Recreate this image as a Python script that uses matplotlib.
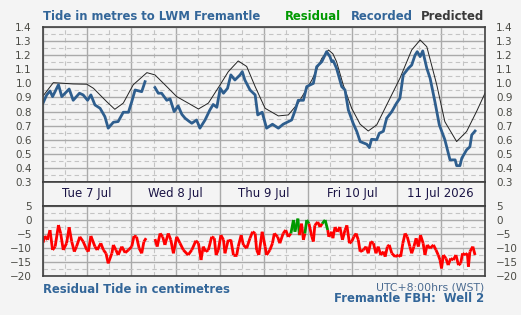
import numpy as np
import matplotlib
matplotlib.use("Agg")
import matplotlib.pyplot as plt
from matplotlib.ticker import MultipleLocator, FormatStrFormatter
from matplotlib.collections import LineCollection

# hours since Tue 7 Jul 2026 00:00 (WST)
pred_hours = [0, 2.8, 8.2, 11.9, 13.7, 17.3, 19.5, 21.8, 24.5, 28.2, 30.4, 33.6, 36.3,
              39.4, 42.2, 44.9, 48.1, 50.3, 53.0, 55.3, 57.6, 60.3, 63.9, 66.6, 69.3,
              73.0, 75.7, 77.5, 78.7, 79.7, 81.5, 83.8, 86.1, 88.3, 90.6, 94.2, 96.9,
              100.1, 102.4, 104.2, 106.9, 109.1, 112.3, 115.0, 117.7, 120]
pred_m = [0.91, 1.005, 0.996, 0.994, 0.965, 0.87, 0.816, 0.86, 0.99, 1.076, 1.06, 0.977, 0.906,
          0.86, 0.818, 0.86, 0.99, 1.083, 1.159, 1.12, 0.977, 0.823, 0.769, 0.776, 0.86,
          1.024, 1.178, 1.237, 1.21, 1.154, 0.99, 0.823, 0.71, 0.662, 0.705, 0.894, 1.036,
          1.237, 1.308, 1.26, 0.99, 0.728, 0.587, 0.658, 0.80, 0.93]

# recorded tide, two pieces (data gap on Wed morning)
rec_hours_a = [0, 1.0, 1.9, 2.6, 4.2, 5.1, 6.0, 7.1, 8.2, 9.9, 10.9, 12.1, 13.0, 14.1, 15.5,
               16.8, 17.7, 19.1, 20.4, 21.8, 23.2, 24.1, 25.0, 26.8, 27.7]
rec_m_a = [0.86, 0.918, 0.946, 0.906, 0.99, 0.906, 0.93, 0.96, 0.88, 0.93, 0.918, 0.88, 0.918,
           0.847, 0.823, 0.764, 0.682, 0.724, 0.729, 0.795, 0.795, 0.87, 0.953, 0.941, 1.012]
rec_hours_b = [30.4, 31.3, 32.2, 33.6, 34.5, 35.6, 36.7, 37.7, 38.6, 39.7, 40.4, 41.7, 42.6,
               44.0, 45.3, 46.2, 47.2, 48.1, 49.0, 50.1, 51.0, 52.1, 53.5, 54.1, 54.8, 56.2,
               57.6, 58.3, 59.5, 60.7, 62.3, 63.9, 65.2, 67.5, 68.4, 69.3, 70.7, 71.6, 73.4,
               74.3, 75.7, 77.0, 77.9, 78.4, 78.8, 79.7, 81.1, 82.0, 82.9, 84.2, 85.2, 86.1,
               87.9, 88.6, 89.2, 90.6, 91.3, 92.4, 93.3, 94.7, 96.0, 96.9, 97.8, 99.2, 100.1,
               101.0, 101.6, 102.4, 103.1, 104.2, 105.1, 106.4, 107.6, 109.1, 110.5, 111.9,
               112.3, 113.2, 113.7, 115.0, 115.9, 116.4, 117.3]
rec_m_b = [0.97, 0.93, 0.93, 0.88, 0.89, 0.80, 0.84, 0.78, 0.752, 0.73, 0.717, 0.74, 0.682,
           0.74, 0.811, 0.85, 0.83, 0.965, 0.93, 0.965, 1.06, 1.024, 1.06, 1.083, 1.024, 0.953,
           0.918, 0.776, 0.795, 0.682, 0.71, 0.682, 0.71, 0.74, 0.804, 0.88, 0.88, 0.977, 1.0,
           1.118, 1.154, 1.225, 1.19, 1.154, 1.16, 1.107, 0.977, 0.953, 0.811, 0.717, 0.658, 0.587,
           0.568, 0.544, 0.603, 0.60, 0.646, 0.66, 0.752, 0.80, 0.86, 0.894, 1.06, 1.107, 1.13,
           1.20, 1.225, 1.19, 1.23, 1.107, 1.036, 0.87, 0.705, 0.60, 0.457, 0.457,
           0.416, 0.416, 0.469, 0.528, 0.55, 0.634, 0.662]

# residual in cm
res_hours_a = [0, 0.5, 1.2, 1.9, 2.6, 3.3, 4.2, 4.8, 5.5, 6.4, 7.1, 7.8, 8.5, 9.1, 10.0, 10.9,
               11.9, 12.3, 13.0, 14.1, 14.7, 15.7, 16.4, 17.1, 17.7, 18.7, 19.1, 19.8, 20.4,
               21.4, 22.3, 23.2, 24.1, 24.7, 25.4, 26.1, 26.8, 27.4, 28.0]
res_cm_a = [-8.1, -5.7, -7.1, -3.6, -10.7, -9.5, -1.8, -4.8, -10.7, -8.3, -2.6, -7.7, -11.3,
            -9.5, -6.0, -7.7, -10.7, -11.3, -5.7, -9.5, -10.7, -8.3, -10.7, -11.9, -15.5, -11.9,
            -8.9, -10.7, -12.5, -9.5, -11.7, -10.7, -9.5, -5.7, -6.0, -10.1, -11.9, -7.7, -6.5]
res_hours_b = [30.4, 31.0, 31.8, 32.5, 33.1, 34.0, 34.7, 35.4, 36.3, 37.2, 38.1, 39.4, 40.4,
               41.5, 42.2, 42.9, 43.5, 44.2, 44.9, 45.8, 46.5, 47.0, 47.6, 48.3, 49.0, 49.4,
               50.3, 51.0, 51.7, 52.6, 53.0, 53.8, 54.4, 55.3, 56.2, 56.9, 57.6, 58.0, 58.6,
               59.5, 60.3, 60.7, 61.6, 62.3, 62.8, 63.7, 64.3, 65.2, 65.9, 66.6, 67.3, 68.0,
               68.4, 69.2, 69.6, 70.2, 70.7, 71.1, 71.6, 72.2, 73.0, 73.4, 73.8, 74.6, 75.2,
               75.8, 76.6, 77.3, 77.6, 78.4, 78.7, 79.3, 79.9, 80.6, 81.3, 82.0, 82.5, 83.2,
               83.8, 84.4, 85.0, 85.6, 86.1, 87.0, 87.7, 88.3, 89.0, 89.7, 90.4, 91.0, 91.7,
               92.4, 92.9, 93.5, 94.0, 94.7, 95.6, 96.5, 97.1, 97.7, 98.3, 98.9, 99.6, 100.1,
               100.7, 101.3, 101.9, 102.5, 103.2, 103.7, 104.3, 105.1, 106.0, 106.7, 107.3,
               107.8, 108.2, 108.7, 109.4, 110.0, 110.7, 111.4, 112.1, 112.8, 113.4, 113.9,
               114.6, 115.2, 115.5, 115.9, 116.7, 117.3]
res_cm_b = [-6.8, -9.5, -4.8, -6.0, -8.9, -4.8, -7.1, -11.9, -6.0, -8.3, -10.7, -12.5, -10.7,
            -7.4, -8.3, -14.3, -9.5, -11.3, -10.7, -6.0, -6.5, -12.5, -10.7, -5.4, -7.1, -11.9,
            -7.1, -7.1, -12.5, -12.5, -9.5, -5.4, -8.9, -10.1, -6.5, -4.2, -4.8, -10.7, -12.5,
            -4.2, -9.5, -12.5, -10.7, -8.3, -4.8, -6.0, -8.3, -4.8, -3.6, -6.0, -4.8, 0.0,
            -4.2, 0.5, -5.4, -1.3, -7.1, -4.8, 0.0, -1.3, -6.0, -7.7, -1.9, -0.7, -2.5,
            -1.3, 0.0, -3.6, -6.0, -4.2, -6.5, -2.5, -4.2, -2.5, -7.1, -3.6, -1.9, -8.3,
            -7.7, -6.0, -4.8, -7.1, -11.3, -10.7, -9.5, -11.9, -7.7, -8.3, -11.9, -9.5, -12.5,
            -11.3, -13.1, -9.5, -8.9, -11.9, -13.1, -12.5, -13.1, -8.3, -4.8, -6.0, -9.5, -11.9,
            -9.5, -6.5, -9.5, -5.4, -8.3, -12.5, -8.9, -10.1, -8.9, -10.7, -12.5,
            -14.3, -17.3, -12.5, -13.7, -16.1, -13.7, -14.3, -12.5, -16.1, -15.5, -11.9,
            -12.5, -11.9, -16.7, -11.3, -9.5, -12.5]

day_labels = ["Tue 7 Jul", "Wed 8 Jul", "Thu 9 Jul", "Fri 10 Jul", "11 Jul 2026"]

bg = "#f4f4f4"
blue = "#2e5e8e"
title_blue = "#336699"
tick_col = "#4a4a44"
frame_col = "#404040"
head_size = 8.4

fig = plt.figure(figsize=(5.21, 3.15), dpi=100, facecolor=bg)
W, H = 521.0, 315.0
x0, x1 = 43 / W, 485 / W
ax_top = fig.add_axes([x0, 1 - 182 / H, x1 - x0, 155 / H])
ax_mid = fig.add_axes([x0, 1 - 206 / H, x1 - x0, 24 / H])
ax_bot = fig.add_axes([x0, 1 - 276 / H, x1 - x0, 70 / H])

for ax in (ax_top, ax_mid, ax_bot):
    ax.set_facecolor(bg)
    ax.set_xlim(0, 120)
    for s in ax.spines.values():
        s.set_color(frame_col)
        s.set_linewidth(1.2)
    ax.tick_params(length=0, labelsize=7.5, labelcolor=tick_col,
                   labelleft=True, labelright=True, labelbottom=False)

for ax in (ax_top, ax_bot):
    ax.xaxis.set_major_locator(MultipleLocator(12))
    ax.xaxis.set_minor_locator(MultipleLocator(6))
    ax.grid(which="major", color="#aaaaaa", linewidth=1.0, linestyle="-")
    ax.grid(which="minor", color="#c4c4c4", linewidth=0.8, linestyle=(0, (4, 3)))
    ax.set_axisbelow(True)
    ax.tick_params(which="both", length=0, pad=8)

# top panel: tide in metres
ax_top.set_ylim(0.3, 1.4)
ax_top.yaxis.set_major_locator(MultipleLocator(0.1))
ax_top.yaxis.set_minor_locator(MultipleLocator(0.05))
ax_top.yaxis.set_major_formatter(FormatStrFormatter("%.1f"))
ax_top.plot(pred_hours, pred_m, color="#222222", linewidth=0.7)
ax_top.plot(rec_hours_a, rec_m_a, color=blue, linewidth=2.0)
ax_top.plot(rec_hours_b, rec_m_b, color=blue, linewidth=2.0)

# date band
ax_mid.set_ylim(0, 1)
ax_mid.set_yticks([])
ax_mid.set_xticks([24, 48, 72, 96])
ax_mid.tick_params(labelleft=False, labelright=False)
ax_mid.grid(axis="x", color="#aaaaaa", linewidth=1.0)
for i, lab in enumerate(day_labels):
    ax_mid.text(12 + 24 * i, 0.5, lab, ha="center", va="center",
                fontsize=8.5, color="#1a1445")

# bottom panel: residual in cm
ax_bot.set_ylim(-20, 5)
ax_bot.yaxis.set_major_locator(MultipleLocator(5))
ax_bot.yaxis.set_minor_locator(MultipleLocator(2.5))
for hrs, cms in ((res_hours_a, res_cm_a), (res_hours_b, res_cm_b)):
    pts = np.column_stack([hrs, cms])
    segs = np.stack([pts[:-1], pts[1:]], axis=1)
    cols = ["#009900" if max(a[1], b[1]) >= 0 else "#ff0000" for a, b in segs]
    ax_bot.add_collection(LineCollection(segs, colors=cols, linewidths=2.0))

# texts
fig.text(43 / W, 1 - 20 / H, "Tide in metres to LWM Fremantle", fontsize=head_size,
         fontweight="bold", color=title_blue, va="baseline")
fig.text(285 / W, 1 - 20 / H, "Residual", fontsize=head_size, fontweight="bold",
         color="#009900", va="baseline")
fig.text(351 / W, 1 - 20 / H, "Recorded", fontsize=head_size, fontweight="bold",
         color=title_blue, va="baseline")
fig.text(484 / W, 1 - 20 / H, "Predicted", fontsize=head_size, fontweight="bold",
         color="#3a3a3a", va="baseline", ha="right")
fig.text(43 / W, 1 - 293 / H, "Residual Tide in centimetres", fontsize=head_size,
         fontweight="bold", color=title_blue, va="baseline")
fig.text(484 / W, 1 - 290 / H, "UTC+8:00hrs (WST)", fontsize=7.8,
         color="#4a6a90", va="baseline", ha="right")
fig.text(484 / W, 1 - 302 / H, "Fremantle FBH:  Well 2", fontsize=head_size,
         fontweight="bold", color=title_blue, va="baseline", ha="right")

fig.savefig("out.png", dpi=100, facecolor=bg)
